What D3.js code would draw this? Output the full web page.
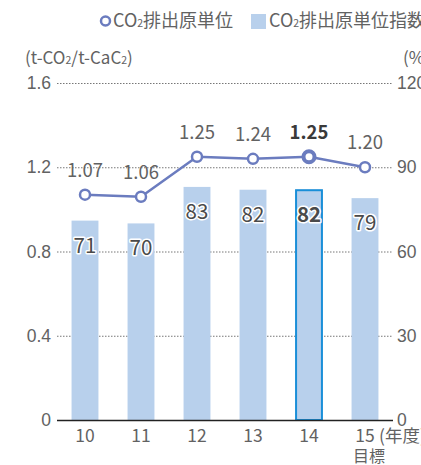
<!DOCTYPE html>
<html>
<head>
<meta charset="utf-8">
<script src="https://cdn.jsdelivr.net/npm/d3@7"></script>
<style>
  html, body { margin: 0; padding: 0; background: #fff; }
  svg { display: block; font-family: "Noto Sans CJK JP", "Noto Sans", sans-serif; }
</style>
</head>
<body>
<svg id="chart" width="421" height="465"></svg>
<script>
// Fiscal years, CO2 intensity (t-CO2/t-CaC2) and intensity index (%)
const years = ["10", "11", "12", "13", "14", "15"];
const intensity = [1.07, 1.06, 1.25, 1.24, 1.25, 1.20];
const intensityIndex = [71, 70, 83, 82, 82, 79];
const leftTicks = [0, 0.4, 0.8, 1.2, 1.6];
const rightTicks = [0, 30, 60, 90, 120];
const highlightYear = "14";

const svg = d3.select("#chart");
const textColor = "#626262";
const lineColor = "#6b7cbf";
const barColor = "#b8d0ec";

const x = d3.scaleBand().domain(years).range([57, 393]).paddingInner(0.52).paddingOuter(0.26);
const yL = d3.scaleLinear().domain([0, 1.6]).range([420, 83]);
const yR = d3.scaleLinear().domain([0, 120]).range([420, 83]);

// dotted gridlines
svg.append("g").selectAll("line").data(leftTicks.slice(1)).join("line")
  .attr("x1", 57).attr("x2", 393)
  .attr("y1", d => yL(d) + 0.5).attr("y2", d => yL(d) + 0.5)
  .attr("stroke", "#777").attr("stroke-width", 1).attr("stroke-dasharray", "1.5,1.5");

// left axis labels
const leftAxis = d3.axisLeft(yL).tickValues(leftTicks).tickSize(0).tickPadding(0)
  .tickFormat(d => d === 0 ? "0" : d3.format(".1f")(d));
const gL = svg.append("g").attr("transform", "translate(51,0)").call(leftAxis);
gL.select(".domain").remove();
gL.selectAll("text").attr("fill", textColor).attr("font-size", 17.5).attr("font-family", null);

// right axis labels
const rightAxis = d3.axisRight(yR).tickValues(rightTicks).tickSize(0).tickPadding(0);
const gR = svg.append("g").attr("transform", "translate(397,0)").call(rightAxis);
gR.select(".domain").remove();
gR.selectAll("text").attr("fill", textColor).attr("font-size", 17.5).attr("font-family", null);

// bars
svg.append("g").selectAll("rect").data(years).join("rect")
  .attr("x", d => x(d))
  .attr("width", x.bandwidth())
  .attr("y", (d, i) => yR(intensityIndex[i]))
  .attr("height", (d, i) => yR(0) - yR(intensityIndex[i]))
  .attr("fill", barColor);

// highlighted bar outline
const hi = years.indexOf(highlightYear);
svg.append("rect")
  .attr("x", x(highlightYear) + 0.5)
  .attr("width", x.bandwidth() - 1)
  .attr("y", yR(intensityIndex[hi]) + 0.5)
  .attr("height", yR(0) - yR(intensityIndex[hi]) - 0.5)
  .attr("fill", "none").attr("stroke", "#1a8fd8").attr("stroke-width", 2);

// baseline
svg.append("line").attr("x1", 57).attr("x2", 393).attr("y1", 420.5).attr("y2", 420.5)
  .attr("stroke", "#222").attr("stroke-width", 1.3);

// bar value labels with white halo
svg.append("g").selectAll("text").data(years).join("text")
  .attr("x", d => x(d) + x.bandwidth() / 2)
  .attr("y", (d, i) => yR(intensityIndex[i]) + 32)
  .attr("text-anchor", "middle")
  .attr("font-size", 20.5)
  .attr("font-weight", d => d === highlightYear ? 700 : 400)
  .attr("fill", "#4a4a4a")
  .attr("stroke", "#fff").attr("stroke-width", 3).attr("paint-order", "stroke")
  .attr("stroke-linejoin", "round")
  .text((d, i) => intensityIndex[i]);

// intensity line
const line = d3.line()
  .x(d => x(d) + x.bandwidth() / 2)
  .y((d, i) => yL(intensity[i]));
svg.append("path").datum(years).attr("d", line)
  .attr("fill", "none").attr("stroke", lineColor).attr("stroke-width", 2.5);

svg.append("g").selectAll("circle").data(years).join("circle")
  .attr("cx", d => x(d) + x.bandwidth() / 2)
  .attr("cy", (d, i) => yL(intensity[i]))
  .attr("r", d => d === highlightYear ? 5.5 : 5)
  .attr("fill", "#fff").attr("stroke", lineColor)
  .attr("stroke-width", d => d === highlightYear ? 4 : 2.5);

// line value labels
svg.append("g").selectAll("text").data(years).join("text")
  .attr("x", d => x(d) + x.bandwidth() / 2)
  .attr("y", (d, i) => yL(intensity[i]) - 18)
  .attr("text-anchor", "middle")
  .attr("font-size", 18.5)
  .attr("font-weight", d => d === highlightYear ? 700 : 400)
  .attr("fill", d => d === highlightYear ? "#3a3a3a" : textColor)
  .text((d, i) => d3.format(".2f")(intensity[i]));

// x axis labels
svg.append("g").selectAll("text").data(years).join("text")
  .attr("x", d => x(d) + x.bandwidth() / 2)
  .attr("y", 442)
  .attr("text-anchor", "middle")
  .attr("font-size", 17.5).attr("fill", textColor)
  .text(d => d);
svg.append("text").attr("x", x("15") + x.bandwidth() / 2 + 14).attr("y", 442)
  .attr("font-size", 17.5).attr("fill", textColor).text("(年度)");
svg.append("text").attr("x", x("15") + x.bandwidth() / 2 + 4).attr("y", 462)
  .attr("text-anchor", "middle")
  .attr("font-size", 16).attr("fill", textColor).text("目標");

// axis unit titles
function co2Text(sel, parts) {
  parts.forEach(p => {
    sel.append("tspan").attr("font-size", p.sub ? 10.5 : null).text(p.t);
  });
}
const unitL = svg.append("text").attr("x", 25).attr("y", 64).attr("font-size", 17).attr("fill", textColor);
co2Text(unitL, [{t: "(t-CO"}, {t: "2", sub: true}, {t: "/t-CaC"}, {t: "2", sub: true}, {t: ")"}]);
svg.append("text").attr("x", 403).attr("y", 64).attr("font-size", 17).attr("fill", textColor).text("(%)");

// legend
const legend = svg.append("g");
legend.append("circle").attr("cx", 105.5).attr("cy", 21).attr("r", 4.5)
  .attr("fill", "#fff").attr("stroke", lineColor).attr("stroke-width", 2.5);
const lt1 = legend.append("text").attr("x", 113).attr("y", 27).attr("font-size", 18).attr("fill", textColor);
co2Text(lt1, [{t: "CO"}, {t: "2", sub: true}, {t: "排出原単位"}]);
legend.append("rect").attr("x", 251).attr("y", 14).attr("width", 15).attr("height", 15).attr("fill", barColor);
const lt2 = legend.append("text").attr("x", 269).attr("y", 27).attr("font-size", 18).attr("fill", textColor);
co2Text(lt2, [{t: "CO"}, {t: "2", sub: true}, {t: "排出原単位指数"}]);
</script>
</body>
</html>
